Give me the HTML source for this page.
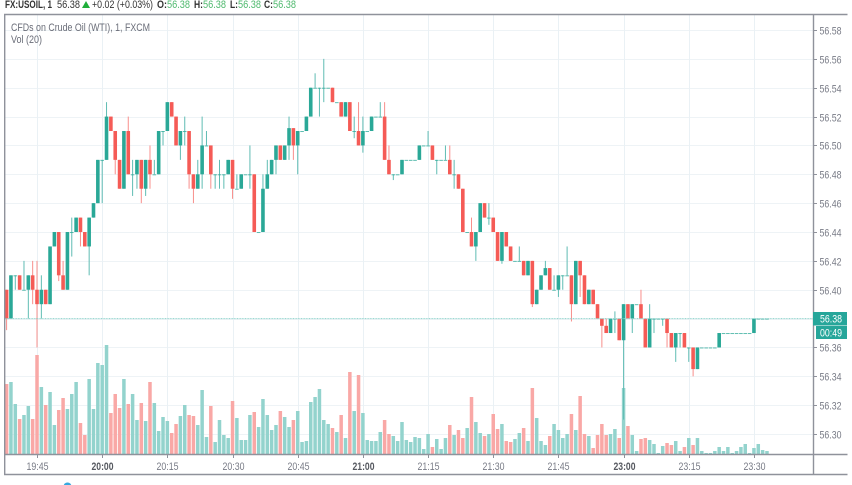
<!DOCTYPE html>
<html lang="en">
<head>
<meta charset="utf-8">
<title>FX:USOIL 1 minute chart</title>
<style>
html,body{margin:0;padding:0;background:#fff;width:852px;height:485px;overflow:hidden}
svg{display:block;font-family:"Liberation Sans",sans-serif;filter:blur(0.35px)}
</style>
</head>
<body>
<svg id="chart" xmlns="http://www.w3.org/2000/svg" width="852" height="485" viewBox="0 0 852 485">
  <rect x="0" y="0" width="852" height="485" fill="#ffffff"/>
  <g id="grid"></g>
  <g id="volumes"></g>
  <g id="candles"></g>
  <g id="lastline"></g>
  <g id="frame" stroke="#8f929b" stroke-width="1.4" fill="none">
    <path d="M847.5 14.5H4.7V474.5H847.5"/>
    <path d="M813.5 14.5V474.5"/>
    <path d="M4.7 454.5H847.5"/>
  </g>
  <g id="price-axis"></g>
  <g id="time-axis"></g>

  <g font-size="11" dominant-baseline="auto">
    <text x="5" y="8" font-weight="bold" fill="#333" textLength="47" lengthAdjust="spacingAndGlyphs">FX:USOIL, 1</text>
    <text x="57" y="8" fill="#333" textLength="23" lengthAdjust="spacingAndGlyphs">56.38</text>
    <polygon points="82,8 86,1 90,8" fill="#1fae3a"/>
    <text x="92" y="8" fill="#333" textLength="61" lengthAdjust="spacingAndGlyphs">+0.02 (+0.03%)</text>
    <text x="157" y="8" font-weight="bold" fill="#333" textLength="10" lengthAdjust="spacingAndGlyphs">O:</text>
    <text x="167" y="8" fill="#4fb96e" textLength="23" lengthAdjust="spacingAndGlyphs">56.38</text>
    <text x="194" y="8" font-weight="bold" fill="#333" textLength="9" lengthAdjust="spacingAndGlyphs">H:</text>
    <text x="203" y="8" fill="#4fb96e" textLength="23" lengthAdjust="spacingAndGlyphs">56.38</text>
    <text x="230" y="8" font-weight="bold" fill="#333" textLength="8" lengthAdjust="spacingAndGlyphs">L:</text>
    <text x="238" y="8" fill="#4fb96e" textLength="23" lengthAdjust="spacingAndGlyphs">56.38</text>
    <text x="264" y="8" font-weight="bold" fill="#333" textLength="9" lengthAdjust="spacingAndGlyphs">C:</text>
    <text x="273" y="8" fill="#4fb96e" textLength="23" lengthAdjust="spacingAndGlyphs">56.38</text>
  </g>

  <text x="11" y="31" font-size="11" fill="#6a6d78" textLength="139" lengthAdjust="spacingAndGlyphs">CFDs on Crude Oil (WTI), 1, FXCM</text>
  <text x="11" y="43" font-size="11" fill="#6a6d78" textLength="31" lengthAdjust="spacingAndGlyphs">Vol (20)</text>

  <rect x="813" y="312" width="34" height="13.5" fill="#26a69a"/>
  <text x="820" y="322.7" font-size="11" fill="#ffffff" textLength="22" lengthAdjust="spacingAndGlyphs">56.38</text>
  <rect x="816" y="326" width="31" height="13" fill="#26a69a"/>
  <text x="820" y="336.7" font-size="11" fill="#ffffff" textLength="22" lengthAdjust="spacingAndGlyphs">00:49</text>

  <circle cx="67.5" cy="486.5" r="4" fill="#36a9e0"/>
</svg>
<script>
const opens = [56.40,56.38,56.41,56.41,56.40,56.40,56.41,56.40,56.39,56.40,56.39,56.43,56.44,56.41,56.40,56.44,56.44,56.45,56.44,56.43,56.45,56.46,56.49,56.49,56.52,56.51,56.49,56.47,56.51,56.48,56.48,56.49,56.47,56.49,56.48,56.48,56.51,56.51,56.53,56.52,56.50,56.51,56.51,56.48,56.47,56.48,56.50,56.50,56.48,56.48,56.48,56.48,56.49,56.47,56.47,56.48,56.48,56.48,56.44,56.44,56.47,56.48,56.49,56.50,56.49,56.50,56.512,56.50,56.51,56.51,56.52,56.54,56.54,56.54,56.54,56.54,56.53,56.53,56.52,56.53,56.51,56.51,56.50,56.51,56.51,56.52,56.52,56.52,56.49,56.48,56.48,56.48,56.49,56.49,56.49,56.49,56.50,56.50,56.50,56.49,56.49,56.49,56.49,56.48,56.48,56.47,56.44,56.44,56.43,56.44,56.46,56.45,56.45,56.44,56.42,56.44,56.43,56.42,56.42,56.42,56.41,56.42,56.39,56.40,56.41,56.415,56.40,56.40,56.41,56.41,56.41,56.39,56.42,56.41,56.39,56.40,56.39,56.38,56.375,56.37,56.38,56.38,56.365,56.39,56.38,56.39,56.39,56.38,56.36,56.38,56.38,56.38,56.38,56.37,56.36,56.37,56.37,56.36,56.36,56.345,56.36,56.36,56.36,56.36,56.36,56.37,56.37,56.37,56.37,56.37,56.37,56.37,56.37,56.38,56.38,56.38];
const closes = [56.38,56.41,56.41,56.40,56.40,56.41,56.40,56.39,56.40,56.39,56.43,56.44,56.41,56.40,56.44,56.44,56.45,56.44,56.43,56.45,56.46,56.49,56.49,56.52,56.51,56.49,56.47,56.51,56.48,56.48,56.49,56.47,56.49,56.48,56.48,56.51,56.51,56.53,56.52,56.50,56.51,56.51,56.48,56.47,56.48,56.50,56.50,56.48,56.48,56.48,56.48,56.49,56.47,56.47,56.48,56.48,56.48,56.44,56.44,56.47,56.48,56.49,56.50,56.49,56.50,56.512,56.50,56.51,56.51,56.52,56.54,56.54,56.54,56.54,56.54,56.53,56.53,56.52,56.53,56.51,56.51,56.50,56.51,56.51,56.52,56.52,56.52,56.49,56.48,56.48,56.48,56.49,56.49,56.49,56.49,56.50,56.50,56.50,56.49,56.49,56.49,56.49,56.48,56.48,56.47,56.44,56.44,56.43,56.44,56.46,56.45,56.45,56.44,56.42,56.44,56.43,56.42,56.42,56.42,56.41,56.42,56.39,56.40,56.41,56.415,56.40,56.40,56.41,56.41,56.41,56.39,56.42,56.41,56.39,56.40,56.39,56.38,56.375,56.37,56.38,56.38,56.365,56.39,56.38,56.39,56.39,56.38,56.36,56.38,56.38,56.38,56.38,56.37,56.36,56.37,56.37,56.36,56.36,56.345,56.36,56.36,56.36,56.36,56.36,56.37,56.37,56.37,56.37,56.37,56.37,56.37,56.37,56.38,56.38,56.38,56.38];
const highs = [56.40,56.41,56.41,56.41,56.42,56.41,56.42,56.42,56.41,56.40,56.43,56.44,56.44,56.42,56.44,56.45,56.45,56.45,56.44,56.45,56.46,56.49,56.49,56.53,56.52,56.51,56.49,56.51,56.52,56.49,56.49,56.49,56.49,56.50,56.49,56.51,56.51,56.53,56.53,56.52,56.51,56.52,56.51,56.48,56.49,56.52,56.51,56.50,56.48,56.49,56.48,56.49,56.49,56.48,56.48,56.48,56.50,56.48,56.44,56.48,56.49,56.49,56.50,56.50,56.50,56.52,56.512,56.51,56.51,56.52,56.54,56.55,56.54,56.56,56.54,56.54,56.53,56.53,56.53,56.53,56.52,56.53,56.52,56.51,56.52,56.52,56.53,56.53,56.50,56.48,56.48,56.49,56.49,56.49,56.49,56.50,56.50,56.51,56.50,56.49,56.49,56.50,56.50,56.49,56.48,56.47,56.44,56.45,56.44,56.46,56.46,56.46,56.45,56.44,56.44,56.44,56.43,56.42,56.43,56.42,56.42,56.42,56.40,56.41,56.42,56.415,56.41,56.41,56.41,56.43,56.41,56.42,56.42,56.41,56.40,56.40,56.39,56.38,56.38,56.38,56.385,56.38,56.39,56.39,56.39,56.39,56.40,56.38,56.39,56.38,56.38,56.38,56.38,56.37,56.37,56.37,56.37,56.36,56.36,56.36,56.36,56.36,56.36,56.36,56.37,56.37,56.37,56.37,56.37,56.37,56.37,56.37,56.38,56.38,56.38,56.38];
const lows = [56.372,56.38,56.40,56.40,56.40,56.38,56.39,56.36,56.38,56.39,56.39,56.43,56.406,56.40,56.40,56.423,56.44,56.43,56.43,56.41,56.45,56.46,56.46,56.49,56.51,56.48,56.47,56.47,56.48,56.465,56.47,56.46,56.465,56.47,56.48,56.48,56.50,56.51,56.52,56.50,56.49,56.50,56.47,56.46,56.47,56.47,56.50,56.47,56.47,56.47,56.47,56.48,56.463,56.47,56.47,56.48,56.47,56.44,56.44,56.44,56.47,56.48,56.48,56.49,56.49,56.49,56.49,56.48,56.51,56.51,56.52,56.54,56.52,56.53,56.54,56.53,56.53,56.52,56.52,56.51,56.505,56.50,56.495,56.51,56.51,56.52,56.52,56.49,56.48,56.476,56.48,56.48,56.49,56.49,56.49,56.49,56.50,56.50,56.49,56.48,56.49,56.49,56.48,56.47,56.47,56.44,56.44,56.43,56.42,56.44,56.45,56.445,56.44,56.42,56.418,56.43,56.42,56.42,56.42,56.41,56.41,56.388,56.39,56.40,56.41,56.40,56.40,56.395,56.40,56.41,56.378,56.39,56.395,56.39,56.39,56.39,56.38,56.36,56.37,56.37,56.37,56.365,56.31,56.38,56.37,56.39,56.38,56.36,56.36,56.37,56.38,56.375,56.36,56.36,56.35,56.36,56.36,56.35,56.34,56.345,56.36,56.36,56.36,56.36,56.36,56.37,56.37,56.37,56.37,56.37,56.37,56.37,56.37,56.38,56.38,56.38];
const volumes = [70,72,50,35,39,48,35,99,67,49,62,29,44,56,45,60,72,31,19,75,45,91,89,109,41,60,46,75,50,60,34,51,33,72,51,23,37,33,21,30,38,49,39,38,29,64,17,48,12,34,19,16,53,36,14,14,39,42,27,55,39,24,29,43,37,27,34,43,12,13,52,57,65,34,30,26,22,39,16,82,43,79,41,14,13,13,22,34,20,18,13,32,14,12,17,16,5,20,7,15,5,16,29,19,24,16,26,57,32,21,18,20,40,25,30,13,12,15,21,26,13,66,36,13,9,18,30,24,16,20,40,24,58,20,18,6,19,30,19,20,25,16,66,28,19,3,15,16,14,10,1,8,11,9,13,3,7,16,9,16,3,1,1,3,7,3,7,1,3,7,10,1,6,10,4,3];
const priceTicks = ["56.58","56.56","56.54","56.52","56.50","56.48","56.46","56.44","56.42","56.40","56.38","56.36","56.34","56.32","56.30"];
const timeTickIndex = [7,22,37,52,67,82,97,112,127,142,157,172];
const timeTickLabels = ["19:45","20:00","20:15","20:30","20:45","21:00","21:15","21:30","21:45","23:00","23:15","23:30"];
const boldTimeLabels = ["20:00","21:00","23:00"];
const lastPrice = 56.38;

const NS = "http://www.w3.org/2000/svg";
function xScale(i){ return 6.6 + 4.345 * i; }
function yScale(p){ return 30 + (56.58 - p) * 1443; }
function vScale(v){ return 454 - v; }
function mk(tag, parent){
  const el = document.createElementNS(NS, tag);
  parent.appendChild(el);
  return el;
}
const gridG = document.getElementById('grid');
const volG = document.getElementById('volumes');
const candleG = document.getElementById('candles');
const priceG = document.getElementById('price-axis');
const timeG = document.getElementById('time-axis');
const lastG = document.getElementById('lastline');

priceTicks.forEach(function(label){
  const y = Math.round(yScale(parseFloat(label))) + 0.5;
  const line = mk('line', gridG);
  
  
  line.setAttribute('x1', 5); line.setAttribute('x2', 813);
  line.setAttribute('y1', y); line.setAttribute('y2', y);
  line.setAttribute('stroke', '#eef3f6');
  const tick = mk('line', priceG);
  
  
  tick.setAttribute('x1', 813); tick.setAttribute('x2', 817);
  tick.setAttribute('y1', y); tick.setAttribute('y2', y);
  tick.setAttribute('stroke', '#8f929b');
  const t = mk('text', priceG);
  
  
  t.setAttribute('x', 819.5); t.setAttribute('y', y + 3.8);
  t.setAttribute('font-size', '11');
  t.setAttribute('fill', '#787b86');
  t.setAttribute('textLength', '22');
  t.setAttribute('lengthAdjust', 'spacingAndGlyphs');
  t.textContent = label;
});

timeTickIndex.forEach(function(idx, k){
  const x = Math.round(xScale(idx)) + 0.5;
  const line = mk('line', gridG);
  
  
  line.setAttribute('x1', x); line.setAttribute('x2', x);
  line.setAttribute('y1', 15); line.setAttribute('y2', 454);
  line.setAttribute('stroke', '#eaf1f5');
  const tick = mk('line', timeG);
  
  
  tick.setAttribute('x1', x); tick.setAttribute('x2', x);
  tick.setAttribute('y1', 454); tick.setAttribute('y2', 458);
  tick.setAttribute('stroke', '#8f929b');
  const t = mk('text', timeG);
  
  
  t.setAttribute('x', x); t.setAttribute('y', 470);
  t.setAttribute('text-anchor', 'middle');
  t.setAttribute('font-size', '11');
  t.setAttribute('textLength', '22');
  t.setAttribute('lengthAdjust', 'spacingAndGlyphs');
  const bold = boldTimeLabels.indexOf(timeTickLabels[k]) >= 0;
  t.setAttribute('fill', bold ? '#55585f' : '#787b86');
  if (bold) t.setAttribute('font-weight', 'bold');
  t.textContent = timeTickLabels[k];
});

volumes.forEach(function(v, i){
  const down = closes[i] < opens[i];
  const x = xScale(i);
  const r = mk('rect', volG);
  
  
  r.setAttribute('x', x - 1.75);
  r.setAttribute('width', 3.5);
  r.setAttribute('y', vScale(v));
  r.setAttribute('height', v);
  r.setAttribute('fill', down ? '#f9a8a6' : '#93d3cd');
});

opens.forEach(function(o, i){
  const c = closes[i];
  const down = c < o;
  const x = xScale(i);
  const w = mk('line', candleG);
  
  
  w.setAttribute('x1', x); w.setAttribute('x2', x);
  w.setAttribute('y1', yScale(highs[i]));
  w.setAttribute('y2', yScale(lows[i]));
  w.setAttribute('stroke', down ? '#f88e8b' : '#5fbcb3');
  const top = yScale(Math.max(o, c));
  const bot = yScale(Math.min(o, c));
  const b = mk('rect', candleG);
  
  
  b.setAttribute('x', x - 1.8);
  b.setAttribute('width', 3.6);
  b.setAttribute('y', top);
  b.setAttribute('height', Math.max(bot - top, 1));
  b.setAttribute('fill', down ? '#f55b56' : '#2aa897');
  if (o === c) b.setAttribute('fill-opacity', '0.75');
});

const ll = mk('line', lastG);


ll.setAttribute('x1', 5); ll.setAttribute('x2', 813);
ll.setAttribute('y1', yScale(lastPrice)); ll.setAttribute('y2', yScale(lastPrice));
ll.setAttribute('stroke', '#8fd3cc');
ll.setAttribute('stroke-dasharray', '1 0.6');
</script>
</body>
</html>
